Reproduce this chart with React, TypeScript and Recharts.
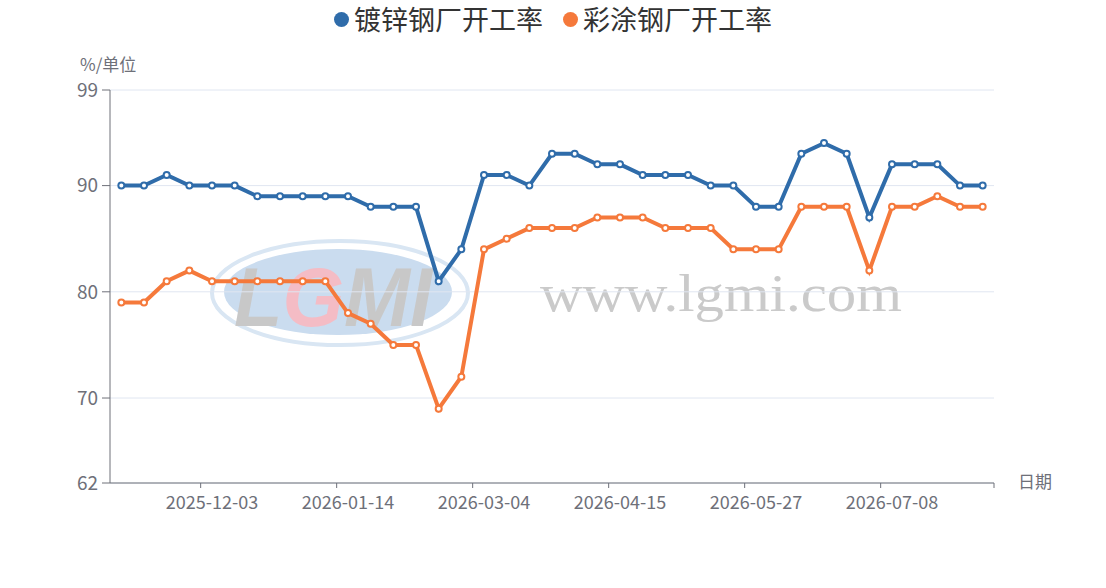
import React from 'react';
import { LineChart, Line, XAxis, YAxis, CartesianGrid } from 'recharts';

const dates = [
  '2025-11-05', '2025-11-12', '2025-11-19', '2025-11-26', '2025-12-03', '2025-12-10',
  '2025-12-17', '2025-12-24', '2025-12-31', '2026-01-07', '2026-01-14', '2026-01-21',
  '2026-01-28', '2026-02-04', '2026-02-11', '2026-02-25', '2026-03-04', '2026-03-11',
  '2026-03-18', '2026-03-25', '2026-04-01', '2026-04-08', '2026-04-15', '2026-04-22',
  '2026-04-29', '2026-05-06', '2026-05-13', '2026-05-20', '2026-05-27', '2026-06-03',
  '2026-06-10', '2026-06-17', '2026-06-24', '2026-07-01', '2026-07-08', '2026-07-15',
  '2026-07-22', '2026-07-29', '2026-08-05',
];

const galvanized = [
  90, 90, 91, 90, 90, 90, 89, 89, 89, 89, 89, 88, 88, 88, 81, 84, 91, 91, 90, 93,
  93, 92, 92, 91, 91, 91, 90, 90, 88, 88, 93, 94, 93, 87, 92, 92, 92, 90, 90,
];

const coated = [
  79, 79, 81, 82, 81, 81, 81, 81, 81, 81, 78, 77, 75, 75, 69, 72, 84, 85, 86, 86,
  86, 87, 87, 87, 86, 86, 86, 84, 84, 84, 88, 88, 88, 82, 88, 88, 89, 88, 88,
];

const labelDates = ['2025-12-03', '2026-01-14', '2026-03-04', '2026-04-15', '2026-05-27', '2026-07-08'];
const yTicks = [62, 70, 80, 90, 99];

const names = ['镀锌钢厂开工率', '彩涂钢厂开工率'];
const BLUE = '#2f6caa';
const ORANGE = '#f5793b';
const FONT = '"Noto Sans CJK SC", "Noto Sans", sans-serif';

const data = dates.map((d, i) => ({ date: d, a: galvanized[i], b: coated[i] }));

// plot box: 110..994 wide
const BAND = (994 - 110) / dates.length;

function XTick(props: any) {
  const { x, y, payload } = props;
  const v = payload.value;
  const isLabel = labelDates.includes(v);
  const isLast = v === dates[dates.length - 1];
  return (
    <g>
      {isLabel && (
        <>
          <line x1={x - BAND / 2} x2={x - BAND / 2} y1={y} y2={y + 5} stroke="#6e7079" />
          <text x={x} y={y + 18} textAnchor="middle" dominantBaseline="central" fill="#6e7079" fontSize={18} fontFamily={FONT}>
            {v}
          </text>
        </>
      )}
      {isLast && <line x1={x + BAND / 2} x2={x + BAND / 2} y1={y} y2={y + 5} stroke="#6e7079" />}
    </g>
  );
}

function Watermark() {
  return (
    <svg width={1106} height={588} style={{ position: 'absolute', left: 0, top: 0 }}>
      <ellipse cx={340} cy={293} rx={128} ry={52} fill="none" stroke="#d9e6f3" strokeWidth={4} />
      <ellipse cx={338} cy={292} rx={114} ry={43} fill="#cadcef" />
      <text x={234} y={326} fontSize={84} fontWeight="bold" fontStyle="italic" fontFamily="Liberation Sans, sans-serif" textLength={198} lengthAdjust="spacingAndGlyphs">
        <tspan fill="#c8c8c8">L</tspan>
        <tspan fill="#f4bcc5">G</tspan>
        <tspan fill="#c8c8c8">MI</tspan>
      </text>
      <text x={540} y={311} fontSize={52} fill="#cacaca" fontFamily="Liberation Serif, serif" textLength={362} lengthAdjust="spacingAndGlyphs">
        www.lgmi.com
      </text>
    </svg>
  );
}

export default function App() {
  return (
    <div style={{ position: 'absolute', left: 0, top: 0, width: 1106, height: 588, background: '#fff', fontFamily: FONT }}>
      <Watermark />
      <div style={{ position: 'absolute', left: 0, top: 0 }}>
        <LineChart width={1106} height={588} data={data} margin={{ top: 90, right: 112, bottom: 75, left: 60 }}>
          <CartesianGrid vertical={false} stroke="#e0e6f1" />
          <XAxis
            dataKey="date"
            scale="band"
            interval={0}
            tickLine={false}
            tickSize={0}
            tickMargin={0}
            height={30}
            axisLine={{ stroke: '#6e7079' }}
            tick={<XTick />}
          />
          <YAxis
            type="number"
            domain={[62, 99]}
            ticks={yTicks}
            interval={0}
            width={50}
            tickSize={8}
            tickMargin={4}
            axisLine={{ stroke: '#6e7079' }}
            tickLine={{ stroke: '#6e7079' }}
            tick={{ fill: '#6e7079', fontSize: 19, fontFamily: FONT }}
          />
          <Line
            dataKey="a"
            name={names[0]}
            stroke={BLUE}
            strokeWidth={4}
            dot={{ r: 3, fill: '#fff', stroke: BLUE, strokeWidth: 2 }}
            activeDot={false}
            isAnimationActive={false}
          />
          <Line
            dataKey="b"
            name={names[1]}
            stroke={ORANGE}
            strokeWidth={4}
            dot={{ r: 3, fill: '#fff', stroke: ORANGE, strokeWidth: 2 }}
            activeDot={false}
            isAnimationActive={false}
          />
        </LineChart>
      </div>
      <div style={{ position: 'absolute', top: 4, left: 0, width: 1106, display: 'flex', justifyContent: 'center', alignItems: 'center', fontSize: 27, lineHeight: '30px', color: '#333' }}>
        <span style={{ display: 'inline-block', width: 15, height: 15, borderRadius: 8, background: BLUE, marginRight: 5 }} />
        <span>{names[0]}</span>
        <span style={{ display: 'inline-block', width: 15, height: 15, borderRadius: 8, background: ORANGE, marginLeft: 20, marginRight: 5 }} />
        <span>{names[1]}</span>
      </div>
      <div style={{ position: 'absolute', left: 80, top: 54, fontSize: 17, lineHeight: '20px', color: '#6e7079' }}>%/单位</div>
      <div style={{ position: 'absolute', left: 1018, top: 471, fontSize: 17, lineHeight: '20px', color: '#6e7079' }}>日期</div>
    </div>
  );
}
